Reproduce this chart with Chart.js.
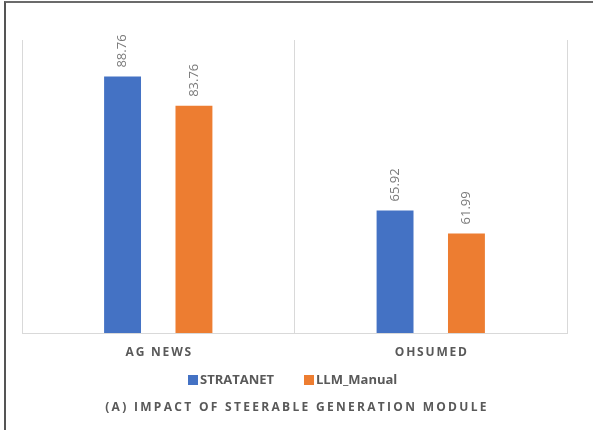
<!DOCTYPE html>
<html>
<head>
<meta charset="utf-8">
<script src="https://cdn.jsdelivr.net/npm/chart.js@4.4.1/dist/chart.umd.min.js"></script>
<style>
  html, body { margin: 0; padding: 0; background: #fff; overflow: hidden; }
  #cadre { position: absolute; left: 4px; top: 1px; width: 700px; height: 500px;
           border-top: 2px solid #6b6b6b; border-left: 2px solid #555; }
  #zone { position: absolute; left: 0; top: 0; width: 593px; height: 430px; }
</style>
</head>
<body>
<div id="cadre"></div>
<div id="zone"><canvas id="graphique" width="593" height="430"></canvas></div>
<script>
// Données du graphique
const categories = ['AG NEWS', 'OHSUMED'];
const series = ['STRATANET', 'LLM_Manual'];
const valeursStratanet = [88.76, 65.92];
const valeursLlmManual = [83.76, 61.99];
const couleurs = ['#4472C4', '#ED7D31'];
const titre = '(A) IMPACT OF STEERABLE GENERATION MODULE';

const police = "'Open Sans', 'DejaVu Sans', sans-serif";

// Plugin : étiquettes verticales, libellés des catégories, légende et titre
const textesPlugin = {
    id: 'textes',
    afterDatasetsDraw(chart) {
        const ctx = chart.ctx;
        ctx.save();
        ctx.fillStyle = '#7a7a7a';
        ctx.font = '13px ' + police;
        ctx.textAlign = 'left';
        ctx.textBaseline = 'middle';
        chart.data.datasets.forEach((ds, i) => {
            chart.getDatasetMeta(i).data.forEach((barre, j) => {
                ctx.save();
                ctx.translate(barre.x, barre.y - 9);
                ctx.rotate(-Math.PI / 2);
                ctx.fillText(ds.data[j].toFixed(2), 0, 0);
                ctx.restore();
            });
        });
        ctx.restore();
    },
    afterDraw(chart) {
        const ctx = chart.ctx;
        const x = chart.scales.x;
        ctx.save();
        ctx.fillStyle = '#595959';
        ctx.textBaseline = 'middle';
        ctx.textAlign = 'center';

        // Libellés des catégories
        ctx.font = 'bold 12px ' + police;
        ctx.letterSpacing = '1.8px';
        categories.forEach((c, i) => {
            ctx.fillText(c, x.getPixelForValue(i) + 1, 353);
        });

        // Légende
        ctx.letterSpacing = '0px';
        ctx.font = 'bold 13px ' + police;
        ctx.textAlign = 'left';
        const positions = [188, 304];
        series.forEach((s, i) => {
            ctx.fillStyle = couleurs[i];
            ctx.fillRect(positions[i], 375, 10, 10);
            ctx.fillStyle = '#595959';
            ctx.fillText(s, positions[i] + 12, 380);
        });

        // Titre
        ctx.textAlign = 'center';
        ctx.font = 'bold 12px ' + police;
        ctx.letterSpacing = '2.3px';
        ctx.fillText(titre, 297, 408);
        ctx.restore();
    }
};

const ctx = document.getElementById('graphique').getContext('2d');
new Chart(ctx, {
    type: 'bar',
    data: {
        labels: categories,
        datasets: [
            { label: series[0], data: valeursStratanet, backgroundColor: couleurs[0] },
            { label: series[1], data: valeursLlmManual, backgroundColor: couleurs[1] }
        ]
    },
    options: {
        responsive: false,
        animation: false,
        categoryPercentage: 0.524,
        barPercentage: 0.517,
        layout: { padding: { left: 22, right: 26, top: 40, bottom: 97 } },
        scales: {
            x: {
                ticks: { display: false },
                grid: { display: true, color: '#d9d9d9', lineWidth: 1, drawTicks: false, offset: true },
                border: { display: true, color: '#d9d9d9', width: 1 }
            },
            y: {
                display: false,
                min: 45,
                max: 95
            }
        },
        plugins: {
            legend: { display: false },
            title: { display: false },
            tooltip: { enabled: false }
        }
    },
    plugins: [textesPlugin]
});
</script>
</body>
</html>
